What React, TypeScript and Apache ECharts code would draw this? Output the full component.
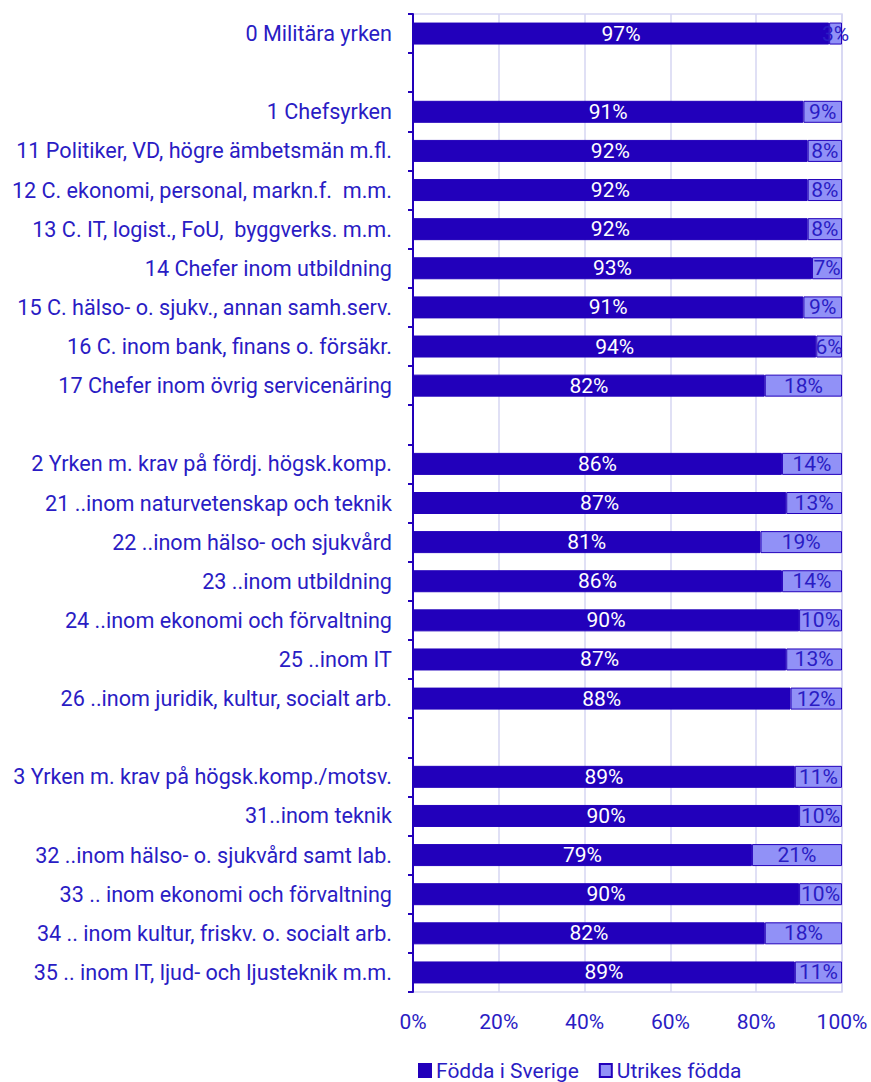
import React, { useEffect, useRef } from "react";
import * as echarts from "echarts";

const categories: string[] = [
  "0 Militära yrken",
  " ",
  "1 Chefsyrken",
  "11 Politiker, VD, högre ämbetsmän m.fl.",
  "12 C. ekonomi, personal, markn.f.  m.m.",
  "13 C. IT, logist., FoU,  byggverks. m.m.",
  "14 Chefer inom utbildning",
  "15 C. hälso- o. sjukv., annan samh.serv.",
  "16 C. inom bank, finans o. försäkr.",
  "17 Chefer inom övrig servicenäring",
  "  ",
  "2 Yrken m. krav på fördj. högsk.komp.",
  "21 ..inom naturvetenskap och teknik",
  "22 ..inom hälso- och sjukvård",
  "23 ..inom utbildning",
  "24 ..inom ekonomi och förvaltning",
  "25 ..inom IT",
  "26 ..inom juridik, kultur, socialt arb.",
  "   ",
  "3 Yrken m. krav på högsk.komp./motsv.",
  "31..inom teknik",
  "32 ..inom hälso- o. sjukvård samt lab.",
  "33 .. inom ekonomi och förvaltning",
  "34 .. inom kultur, friskv. o. socialt arb.",
  "35 .. inom IT, ljud- och ljusteknik m.m.",
];

const foddaISverige: (number | null)[] = [
  97, null, 91, 92, 92, 92, 93, 91, 94, 82, null, 86, 87, 81, 86, 90, 87, 88, null, 89, 90, 79, 90, 82, 89,
];

const utrikesFodda: (number | null)[] = [
  3, null, 9, 8, 8, 8, 7, 9, 6, 18, null, 14, 13, 19, 14, 10, 13, 12, null, 11, 10, 21, 10, 18, 11,
];

const seriesNames = ["Födda i Sverige", "Utrikes födda"];

const DARK = "#2200bb";
const LIGHT = "#9191f7";
const TEXT = "#2a1cc4";
const FONT = "Roboto";
const FS = 21;

export default function App() {
  const ref = useRef<HTMLDivElement>(null);
  useEffect(() => {
    if (!ref.current) return;
    const chart = echarts.init(ref.current, undefined, { renderer: "svg" });
    chart.setOption({
      animation: false,
      textStyle: { fontFamily: FONT },
      grid: {
        left: 413,
        right: 29,
        top: 14,
        bottom: 90,
        show: true,
        borderColor: "#d6d6f2",
        borderWidth: 1.5,
      },
      legend: {
        left: 413,
        top: 1055,
        icon: "rect",
        itemWidth: 12,
        itemHeight: 13,
        itemGap: 20,
        textStyle: { color: TEXT, fontSize: FS, fontFamily: FONT },
        data: seriesNames,
      },
      xAxis: {
        type: "value",
        min: 0,
        max: 100,
        interval: 20,
        axisLine: { show: false },
        axisTick: { show: false },
        axisLabel: {
          formatter: "{value}%",
          color: TEXT,
          fontSize: FS,
          margin: 19,
          fontFamily: FONT,
        },
        splitLine: { lineStyle: { color: "#d6d6f2", width: 1.5 } },
      },
      yAxis: {
        type: "category",
        inverse: true,
        data: categories,
        axisLine: { show: true, lineStyle: { color: DARK, width: 2 } },
        axisTick: { show: true, length: 5, lineStyle: { color: DARK, width: 2 } },
        axisLabel: {
          color: TEXT,
          fontSize: 21.6,
          margin: 21,
          fontFamily: FONT,
        },
      },
      series: [
        {
          name: seriesNames[0],
          type: "bar",
          stack: "total",
          barWidth: 22,
          data: foddaISverige,
          itemStyle: { color: DARK, borderColor: DARK, borderWidth: 1 },
          label: {
            show: true,
            position: "inside",
            formatter: "{c}%",
            color: "#ffffff",
            fontSize: FS,
            fontFamily: FONT,
          },
        },
        {
          name: seriesNames[1],
          type: "bar",
          stack: "total",
          barWidth: 22,
          data: utrikesFodda,
          itemStyle: { color: LIGHT, borderColor: DARK, borderWidth: 1 },
          label: {
            show: true,
            position: "inside",
            formatter: "{c}%",
            color: TEXT,
            fontSize: FS,
            fontFamily: FONT,
          },
        },
      ],
    });
    return () => chart.dispose();
  }, []);
  return (
    <div
      ref={ref}
      style={{ position: "fixed", left: 0, top: 0, width: 871, height: 1082, background: "#ffffff" }}
    />
  );
}
